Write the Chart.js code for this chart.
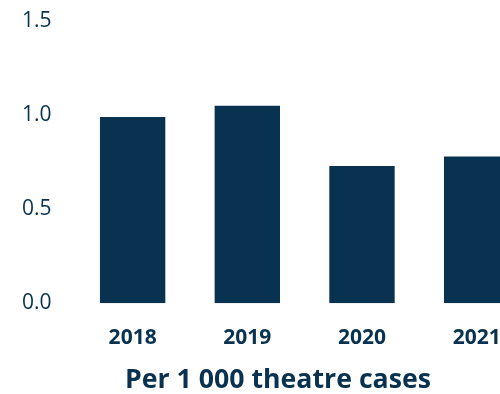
<!DOCTYPE html>
<html lang="en">
  <head>
    <meta charset="UTF-8" />
    <script src="https://cdn.jsdelivr.net/npm/chart.js@4.4.0/dist/chart.umd.min.js"></script>
    <title>Per 1 000 theatre cases</title>
    <style>
      html, body { margin: 0; padding: 0; overflow: hidden; background: #fff; }
      #wrap { width: 500px; height: 394px; overflow: hidden; }
    </style>
  </head>
  <body>
    <div id="wrap">
      <canvas id="chart" width="534" height="394"></canvas>
    </div>
    <script>
      // rate per 1 000 theatre cases, by year
      const years = ["2018", "2019", "2020", "2021"];
      const rates = [0.99, 1.05, 0.73, 0.78];
      const yTicks = [0, 0.5, 1.0, 1.5];

      const navy = "#08324f";

      const ctx = document.getElementById("chart").getContext("2d");
      const myChart = new Chart(ctx, {
        type: "bar",
        data: {
          labels: years,
          datasets: [
            {
              data: rates,
              backgroundColor: navy,
              categoryPercentage: 1,
              barPercentage: 0.57,
            },
          ],
        },
        options: {
          responsive: false,
          animation: false,
          layout: { padding: { left: 22, top: 21, right: 0, bottom: 0 } },
          plugins: {
            legend: { display: false },
            tooltip: { enabled: false },
            title: {
              display: true,
              position: "bottom",
              text: "Per 1 000 theatre cases",
              color: navy,
              font: { family: "Open Sans", size: 26.7, weight: "bold", lineHeight: 1.05 },
              padding: { top: 21, bottom: 0 },
            },
          },
          scales: {
            x: {
              grid: { display: false, drawTicks: false },
              border: { display: false },
              afterFit: (scale) => {
                scale.height = 41.6;
              },
              ticks: {
                color: navy,
                padding: 22,
                font: { family: "Open Sans", size: 21, weight: "bold" },
              },
            },
            y: {
              min: 0,
              max: 1.5,
              afterBuildTicks: (scale) => {
                scale.ticks = yTicks.map((v) => ({ value: v }));
              },
              afterFit: (scale) => {
                scale.width = 53.3;
              },
              grid: { display: false, drawTicks: false },
              border: { display: false },
              ticks: {
                color: navy,
                crossAlign: "far",
                padding: 0,
                font: { family: "Open Sans", size: 21 },
                callback: (v) => Number(v).toFixed(1),
              },
            },
          },
        },
      });
    </script>
  </body>
</html>
